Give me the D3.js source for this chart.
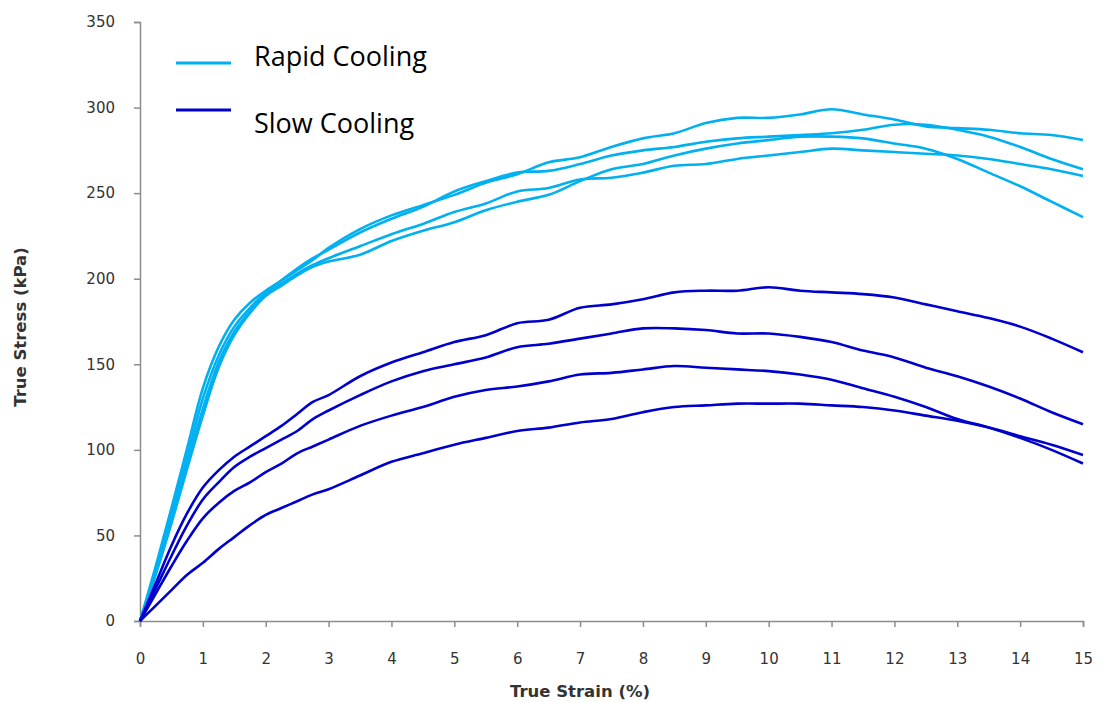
<!DOCTYPE html>
<html>
<head>
<meta charset="utf-8">
<script src="https://cdn.jsdelivr.net/npm/d3@7"></script>
<style>
  body { margin: 0; background: #fff; }
  svg { display: block; }
  .axis path, .axis line { stroke: #8c8c8c; stroke-width: 1.5; }
  .axis text { font-family: "DejaVu Sans", sans-serif; font-size: 15px; fill: #333; }
  .title { font-family: "DejaVu Sans", sans-serif; font-size: 16.5px; font-weight: bold; fill: #333; }
  .legend text { font-family: "Open Sans", sans-serif; font-size: 27px; fill: #000; }
</style>
</head>
<body>
<svg width="1099" height="702"></svg>
<script>
/* strain (%) sampled finer on the steep start */
var strain = [0, 0.25, 0.5, 0.75, 1, 1.25, 1.5, 1.75, 2, 2.25, 2.5, 2.75,
  3, 3.5, 4, 4.5, 5, 5.5, 6, 6.5, 7, 7.5, 8, 8.5, 9, 9.5, 10, 10.5, 11, 11.5, 12, 12.5, 13, 13.5, 14, 14.5, 15];

// rapid cooling samples (kPa)
var rapid1 = [0, 32, 66, 101, 136, 160, 176, 186, 193, 199, 205, 211,
  218, 229, 237, 243, 249, 256, 261, 268, 271, 277, 282, 285, 291, 294, 294, 296, 299, 296, 293, 289, 288, 287, 285, 284, 281];
var rapid2 = [0, 29, 62, 96, 130, 155, 172, 183, 192, 199, 206, 212,
  217, 227, 235, 242, 251, 257, 262, 263, 267, 272, 275, 277, 280, 282, 283, 284, 285, 287, 290, 290, 287, 283, 277, 270, 264];
var rapid3 = [0, 28, 59, 92, 124, 151, 169, 181, 191, 197, 203, 208,
  212, 219, 226, 232, 239, 244, 251, 253, 258, 259, 262, 266, 267, 270, 272, 274, 276, 275, 274, 273, 272, 270, 267, 264, 260];
var rapid4 = [0, 27, 57, 89, 120, 148, 167, 180, 190, 196, 202, 207,
  210, 214, 222, 228, 233, 240, 245, 249, 257, 264, 267, 272, 276, 279, 281, 283, 283, 282, 279, 276, 270, 262, 254, 245, 236];

// slow cooling samples (kPa)
var slow1 = [0, 22, 44, 63, 78, 88, 96, 102, 108, 114, 121, 128,
  132, 143, 151, 157, 163, 167, 174, 176, 183, 185, 188, 192, 193, 193, 195, 193, 192, 191, 189, 185, 181, 177, 172, 165, 157];
var slow2 = [0, 19, 38, 56, 71, 81, 90, 96, 101, 106, 111, 118,
  123, 132, 140, 146, 150, 154, 160, 162, 165, 168, 171, 171, 170, 168, 168, 166, 163, 158, 154, 148, 143, 137, 130, 122, 115];
var slow3 = [0, 16, 32, 47, 60, 69, 76, 81, 87, 92, 98, 102,
  106, 114, 120, 125, 131, 135, 137, 140, 144, 145, 147, 149, 148, 147, 146, 144, 141, 136, 131, 125, 118, 113, 107, 100, 92];
var slow4 = [0, 9, 18, 27, 34, 42, 49, 56, 62, 66, 70, 74,
  77, 85, 93, 98, 103, 107, 111, 113, 116, 118, 122, 125, 126, 127, 127, 127, 126, 125, 123, 120, 117, 113, 108, 103, 97];

var xTicks = d3.range(0, 16, 1);
var yTicks = [0, 50, 100, 150, 200, 250, 300, 350];

var groups = ["Rapid Cooling", "Slow Cooling"];
var colors = ["#00b0f0", "#0000cc"];

var series = [
  { group: 0, values: rapid1 }, { group: 0, values: rapid2 },
  { group: 0, values: rapid3 }, { group: 0, values: rapid4 },
  { group: 1, values: slow1 }, { group: 1, values: slow2 },
  { group: 1, values: slow3 }, { group: 1, values: slow4 }
];

var svg = d3.select("svg");

var x = d3.scaleLinear().domain([0, 15]).range([140, 1083]);
var y = d3.scaleLinear().domain([0, 350]).range([621, 22]);

var line = d3.line()
    .x(function (d, i) { return x(strain[i]); })
    .y(function (d) { return y(d); })
    .curve(d3.curveCatmullRom);

svg.append("g")
    .attr("class", "axis")
    .attr("transform", "translate(0,621)")
    .call(d3.axisBottom(x).tickValues(xTicks).tickSize(6).tickPadding(26).tickSizeOuter(6));

svg.append("g")
    .attr("class", "axis")
    .attr("transform", "translate(140,0)")
    .call(d3.axisLeft(y).tickValues(yTicks).tickSize(6).tickPadding(19).tickSizeOuter(6));

svg.append("g")
    .selectAll("path")
    .data(series)
    .enter().append("path")
    .attr("d", function (d) { return line(d.values); })
    .attr("fill", "none")
    .attr("stroke", function (d) { return colors[d.group]; })
    .attr("stroke-width", 2.6)
    .attr("stroke-linejoin", "round");

svg.append("text")
    .attr("class", "title")
    .attr("text-anchor", "middle")
    .attr("transform", "translate(26,327) rotate(-90)")
    .text("True Stress (kPa)");

svg.append("text")
    .attr("class", "title")
    .attr("text-anchor", "middle")
    .attr("x", 580)
    .attr("y", 697)
    .text("True Strain (%)");

var legend = svg.append("g").attr("class", "legend");
var legendY = [63, 110];

legend.selectAll("line")
    .data(groups)
    .enter().append("line")
    .attr("x1", 176).attr("x2", 231)
    .attr("y1", function (d, i) { return legendY[i]; })
    .attr("y2", function (d, i) { return legendY[i]; })
    .attr("stroke", function (d, i) { return colors[i]; })
    .attr("stroke-width", 3);

legend.selectAll("text")
    .data(groups)
    .enter().append("text")
    .attr("x", 254)
    .attr("y", function (d, i) { return [66, 133][i]; })
    .text(function (d) { return d; });
</script>
</body>
</html>
